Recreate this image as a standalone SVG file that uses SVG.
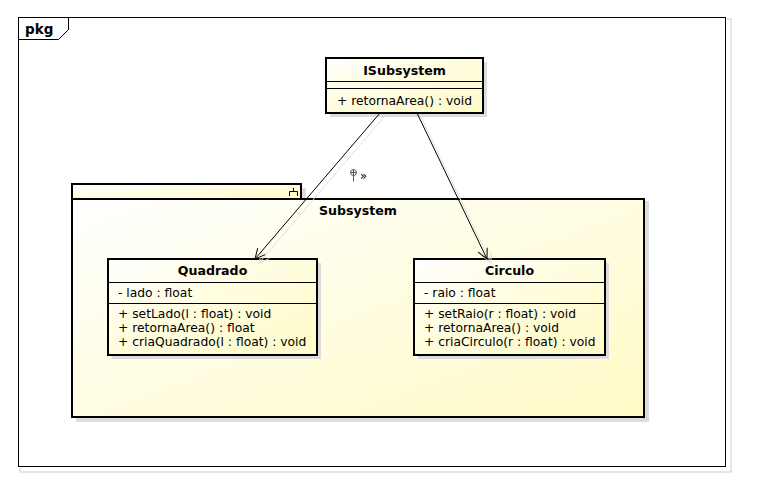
<svg xmlns="http://www.w3.org/2000/svg" width="763" height="488" viewBox="0 0 763 488">
  <defs>
    <linearGradient id="classFill" x1="0" y1="0" x2="1" y2="1">
      <stop offset="0" stop-color="#ffffff"/>
      <stop offset="0.45" stop-color="#fffde0"/>
      <stop offset="1" stop-color="#fffbc8"/>
    </linearGradient>
    <linearGradient id="pkgFill" x1="0" y1="0" x2="1" y2="1">
      <stop offset="0" stop-color="#ffffff"/>
      <stop offset="0.5" stop-color="#fffde2"/>
      <stop offset="1" stop-color="#fffac6"/>
    </linearGradient>
    <marker id="open" viewBox="0 0 12 12" refX="11" refY="6" markerWidth="12" markerHeight="12" markerUnits="userSpaceOnUse" orient="auto">
      <path d="M1,1 L11,6 L1,11" fill="none" stroke="#000" stroke-width="1"/>
    </marker>
    <marker id="openShadow" viewBox="0 0 12 12" refX="11" refY="6" markerWidth="12" markerHeight="12" markerUnits="userSpaceOnUse" orient="auto">
      <path d="M1,1 L11,6 L1,11" fill="none" stroke="#dedede" stroke-width="1"/>
    </marker>
  </defs>
  <style>
    text { font-family: "DejaVu Sans", Verdana, sans-serif; font-size: 12.3px; fill: #000; }
    .title { font-weight: bold; font-size: 12.6px; }
    .box { fill: url(#classFill); stroke: #000; stroke-width: 2; }
    .pkg { fill: url(#pkgFill); stroke: #000; stroke-width: 2; }
    .shadow { fill: #dcdcdc; stroke: none; }
    .div { stroke: #000; stroke-width: 1; }
    .edge { stroke: #000; stroke-width: 1; fill: none; }
    .edgeShadow { stroke: #e0e0e0; stroke-width: 1; fill: none; }
  </style>

  <rect width="763" height="488" fill="#ffffff"/>

  <!-- diagram frame -->
  <g id="frame">
    <polyline points="727,19 731,19 731,472 20,472 20,468" fill="none" stroke="#dedede" stroke-width="1.5"/>
    <rect x="18.5" y="17.5" width="707" height="449" fill="#ffffff" stroke="#000" stroke-width="1"/>
    <path d="M18.5,39.5 L58.5,39.5 L68.5,29.5 L68.5,17.5" fill="none" stroke="#000" stroke-width="1"/>
    <text x="25" y="34" class="title" style="font-size:13.5px">pkg</text>
  </g>

  <!-- package Subsystem -->
  <g id="Subsystem">
    <rect x="301" y="188" width="5" height="11" class="shadow"/>
    <rect x="76" y="201" width="573" height="221" class="shadow"/>
    <rect x="72" y="184" width="229" height="15" class="pkg"/>
    <rect x="72" y="199" width="572" height="218" class="pkg"/>
    <path d="M289.5,196 L289.5,191.5 L297.5,191.5 L297.5,196 M293.5,191.5 L293.5,188" fill="none" stroke="#000" stroke-width="1"/>
    <text x="358" y="215" class="title" text-anchor="middle">Subsystem</text>
  </g>

  <!-- interface ISubsystem -->
  <g id="ISubsystem">
    <rect x="330" y="62" width="157" height="55" class="shadow"/>
    <rect x="326" y="58" width="157" height="55" class="box"/>
    <line x1="326" y1="81.5" x2="483" y2="81.5" class="div"/>
    <line x1="326" y1="88.5" x2="483" y2="88.5" class="div"/>
    <text x="404.5" y="75" class="title" text-anchor="middle">ISubsystem</text>
    <text x="337" y="105">+ retornaArea() : void</text>
  </g>

  <!-- class Quadrado -->
  <g id="Quadrado">
    <rect x="112" y="263" width="209" height="96" class="shadow"/>
    <rect x="108" y="259" width="209" height="96" class="box"/>
    <line x1="108" y1="282.5" x2="317" y2="282.5" class="div"/>
    <line x1="108" y1="303.5" x2="317" y2="303.5" class="div"/>
    <text x="212.5" y="275" class="title" text-anchor="middle">Quadrado</text>
    <text x="118" y="297">- lado : float</text>
    <text x="118" y="318">+ setLado(l : float) : void</text>
    <text x="118" y="332">+ retornaArea() : float</text>
    <text x="118" y="346">+ criaQuadrado(l : float) : void</text>
  </g>

  <!-- class Circulo -->
  <g id="Circulo">
    <rect x="418" y="263" width="191" height="96" class="shadow"/>
    <rect x="414" y="259" width="191" height="96" class="box"/>
    <line x1="414" y1="282.5" x2="605" y2="282.5" class="div"/>
    <line x1="414" y1="303.5" x2="605" y2="303.5" class="div"/>
    <text x="509.5" y="275" class="title" text-anchor="middle">Circulo</text>
    <text x="424" y="297">- raio : float</text>
    <text x="424" y="318">+ setRaio(r : float) : void</text>
    <text x="424" y="332">+ retornaArea() : void</text>
    <text x="424" y="346">+ criaCirculo(r : float) : void</text>
  </g>

  <!-- connectors -->
  <g id="connectors">
    <line x1="384" y1="117" x2="259" y2="263" class="edgeShadow" marker-end="url(#openShadow)"/>
    <line x1="421" y1="117" x2="491" y2="263" class="edgeShadow" marker-end="url(#openShadow)"/>
    <line x1="380" y1="113" x2="255" y2="259" class="edge" marker-end="url(#open)"/>
    <line x1="417" y1="113" x2="487" y2="259" class="edge" marker-end="url(#open)"/>
    <g id="edgeLabel">
      <circle cx="353.5" cy="172.5" r="3" fill="#fff" stroke="#555" stroke-width="1"/>
      <path d="M350.5,172.5 H356.5 M353.5,169.5 V181.5" stroke="#555" stroke-width="1" fill="none"/>
      <text x="360" y="180" style="font-size:11.5px">»</text>
    </g>
  </g>
</svg>
